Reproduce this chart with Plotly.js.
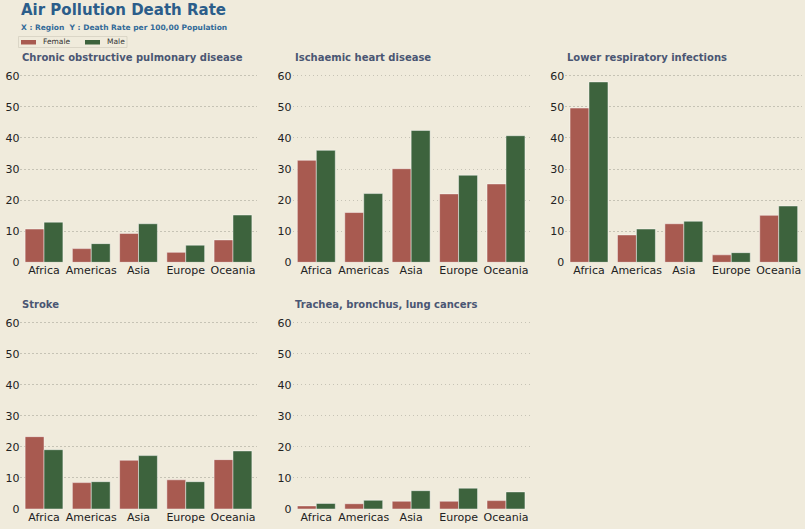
<!DOCTYPE html>
<html>
<head>
<meta charset="utf-8">
<script src="https://cdn.plot.ly/plotly-3.0.1.min.js"></script>
<style>html,body{margin:0;padding:0;background:#f0ebdc;}#chart{width:805px;height:529px;}</style>
</head>
<body>
<div id="chart"></div>
<script>
const regions = ["Africa", "Americas", "Asia", "Europe", "Oceania"];
const diseases = ["Chronic obstructive pulmonary disease", "Ischaemic heart disease", "Lower respiratory infections", "Stroke", "Trachea, bronchus, lung cancers"];
const yTicks = [0, 10, 20, 30, 40, 50, 60];

const copdFemale = [10.7, 4.4, 9.3, 3.2, 7.2];
const copdMale = [12.9, 6.0, 12.4, 5.5, 15.2];
const ihdFemale = [32.8, 16.0, 30.1, 22.0, 25.2];
const ihdMale = [36.0, 22.1, 42.4, 28.0, 40.7];
const lriFemale = [49.6, 8.8, 12.4, 2.4, 15.1];
const lriMale = [58.0, 10.7, 13.2, 3.1, 18.1];
const strokeFemale = [23.3, 8.5, 15.7, 9.4, 15.9];
const strokeMale = [19.1, 8.8, 17.2, 8.8, 18.7];
const cancerFemale = [1.0, 1.7, 2.5, 2.5, 2.7];
const cancerMale = [1.8, 2.8, 5.9, 6.7, 5.5];

const femaleSeries = [copdFemale, ihdFemale, lriFemale, strokeFemale, cancerFemale];
const maleSeries = [copdMale, ihdMale, lriMale, strokeMale, cancerMale];

const FEMALE = '#a85a50', MALE = '#3d633d';
const W = 805, H = 529;
const px = v => v / W, py = v => 1 - v / H;

// axis geometry in pixels: [left, right], [top, bottom]
const cols = [[20.4, 256.6], [292.6, 529.7], [565.3, 802.4]];
const rows = [[72.6, 262.3], [319.6, 509]];
const cells = [[0,0],[0,1],[0,2],[1,0],[1,1]];

const traces = [];
const layout = {
  width: W, height: H,
  margin: {l: 0, r: 0, t: 0, b: 0},
  paper_bgcolor: '#f0ebdc', plot_bgcolor: '#f0ebdc',
  barmode: 'group', bargap: 0.2, bargroupgap: 0,
  showlegend: false,
  font: {family: 'DejaVu Sans', color: '#262626', size: 11},
  annotations: [], shapes: []
};

cells.forEach((rc, i) => {
  const n = i === 0 ? '' : String(i + 1);
  const col = cols[rc[1]], row = rows[rc[0]];
  traces.push({type: 'bar', name: 'Female', x: regions, y: femaleSeries[i], xaxis: 'x' + n, yaxis: 'y' + n,
    marker: {color: FEMALE, line: {color: 'rgba(255,255,255,0.45)', width: 1}}, hoverinfo: 'x+y+name'});
  traces.push({type: 'bar', name: 'Male', x: regions, y: maleSeries[i], xaxis: 'x' + n, yaxis: 'y' + n,
    marker: {color: MALE, line: {color: 'rgba(255,255,255,0.45)', width: 1}}, hoverinfo: 'x+y+name'});
  layout['xaxis' + n] = {
    domain: [px(col[0]), px(col[1])], anchor: 'y' + n, type: 'category',
    range: [-0.5, 4.5], showgrid: false, zeroline: false, showline: false, ticks: '',
    tickfont: {size: 11, color: '#222222', family: 'DejaVu Sans'}, fixedrange: true
  };
  layout['yaxis' + n] = {
    domain: [py(row[1]), py(row[0])], anchor: 'x' + n,
    range: [0, 61], tickvals: yTicks, ticktext: yTicks.map(String),
    showgrid: true, gridcolor: '#c6c3b5', griddash: '1.5px,2.5px', gridwidth: 1,
    zeroline: false, showline: false, ticks: '',
    tickfont: {size: 11, color: '#222222', family: 'DejaVu Sans'}, fixedrange: true
  };
  layout.annotations.push({
    xref: 'paper', yref: 'paper', x: px(col[0]), y: py(row[0] - 15), xanchor: 'left', yanchor: 'middle',
    text: '<b>' + diseases[i] + '</b>', showarrow: false,
    font: {family: 'DejaVu Sans', size: 10, color: '#4a5673'}
  });
});

layout.annotations.push({
  xref: 'paper', yref: 'paper', x: px(19), y: py(10), xanchor: 'left', yanchor: 'middle',
  text: '<b>Air Pollution Death Rate</b>', showarrow: false,
  font: {family: 'DejaVu Sans', size: 15, color: '#2b5d8a'}
});
layout.annotations.push({
  xref: 'paper', yref: 'paper', x: px(19), y: py(27), xanchor: 'left', yanchor: 'middle',
  text: '<b>X : Region  Y : Death Rate per 100,00 Population</b>', showarrow: false,
  font: {family: 'DejaVu Sans', size: 7.5, color: '#336a98'}
});
// legend
layout.shapes.push({type: 'rect', xref: 'paper', yref: 'paper', x0: px(18.5), x1: px(127), y0: py(36.5), y1: py(47.5),
  line: {color: 'rgba(210,205,190,0.7)', width: 1}, fillcolor: 'rgba(0,0,0,0)'});
layout.shapes.push({type: 'rect', xref: 'paper', yref: 'paper', x0: px(21), x1: px(36), y0: py(40), y1: py(44.5),
  line: {width: 0}, fillcolor: FEMALE});
layout.shapes.push({type: 'rect', xref: 'paper', yref: 'paper', x0: px(85), x1: px(100), y0: py(40), y1: py(44.5),
  line: {width: 0}, fillcolor: MALE});
layout.annotations.push({xref: 'paper', yref: 'paper', x: px(41), y: py(42), xanchor: 'left', yanchor: 'middle',
  text: 'Female', showarrow: false, font: {family: 'DejaVu Sans', size: 7.5, color: '#333333'}});
layout.annotations.push({xref: 'paper', yref: 'paper', x: px(105), y: py(42), xanchor: 'left', yanchor: 'middle',
  text: 'Male', showarrow: false, font: {family: 'DejaVu Sans', size: 7.5, color: '#333333'}});

Plotly.newPlot('chart', traces, layout, {displayModeBar: false, staticPlot: true});
</script>
</body>
</html>
